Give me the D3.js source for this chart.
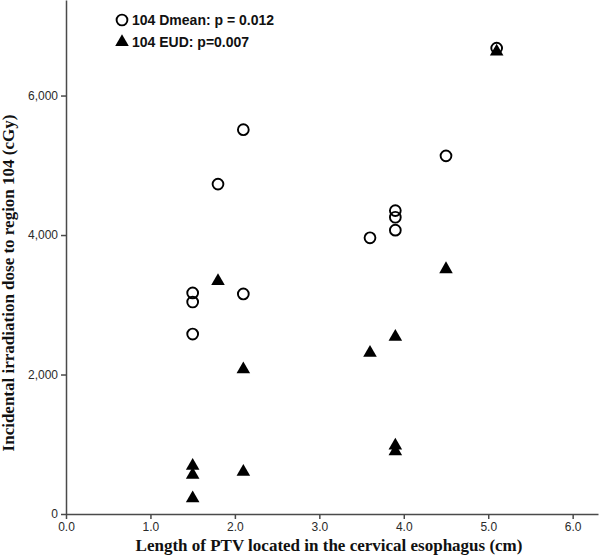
<!DOCTYPE html>
<html>
<head>
<meta charset="utf-8">
<script src="https://cdn.jsdelivr.net/npm/d3@7"></script>
<style>
  body { margin: 0; background: #fff; }
  .axis path, .axis line { stroke: #4a4a4a; stroke-width: 1.5; }
  .axis text { font-family: "Liberation Sans", Arial, sans-serif; font-size: 12px; fill: #2a2a2a; }
  .axis-title { font-family: "Liberation Serif", "Times New Roman", serif; font-weight: bold; font-size: 17px; fill: #111; }
  .legend text { font-family: "Liberation Sans", Arial, sans-serif; font-weight: bold; font-size: 14px; fill: #111; }
</style>
</head>
<body>
<svg id="ScatterVis" width="600" height="557"></svg>
<script>
const width = 600;
const height = 557;

/* DATA */
const dmeanLength = [1.5, 1.5, 1.5, 1.8, 2.1, 2.1, 3.6, 3.9, 3.9, 3.9, 4.5, 5.1];
const dmeanDose   = [3170, 3040, 2580, 4730, 5510, 3155, 3960, 4350, 4255, 4070, 5135, 6680];

const eudLength = [1.5, 1.5, 1.5, 1.8, 2.1, 2.1, 3.6, 3.9, 3.9, 3.9, 4.5, 5.1];
const eudDose   = [690, 560, 225, 3340, 2075, 605, 2310, 2540, 980, 900, 3510, 6630];

const xTicks = [0, 1, 2, 3, 4, 5, 6];
const yTicks = [0, 2000, 4000, 6000];

const legendLabels = ["104 Dmean: p = 0.012", "104 EUD: p=0.007"];

/* PLOT */
const svg = d3.select("svg#ScatterVis");

const scales = {
  x: d3.scaleLinear().domain([0, 6.3]).range([66, 598]),
  y: d3.scaleLinear().domain([0, 7370]).range([514, 0])
};

/* AXES */
const xAxis = d3.axisBottom(scales.x)
  .tickValues(xTicks)
  .tickFormat(d3.format(".1f"))
  .tickSize(5)
  .tickSizeOuter(0);

const yAxis = d3.axisLeft(scales.y)
  .tickValues(yTicks)
  .tickFormat(d3.format(","))
  .tickSize(5)
  .tickSizeOuter(0);

svg.append("g")
  .attr("class", "axis")
  .attr("transform", translate(0, scales.y(0)))
  .call(xAxis);

svg.append("g")
  .attr("class", "axis")
  .attr("transform", translate(scales.x(0), 0))
  .call(yAxis);

/* AXIS TITLES */
svg.append("text")
  .attr("class", "axis-title")
  .attr("x", 329)
  .attr("y", 551)
  .attr("text-anchor", "middle")
  .text("Length of PTV located in the cervical esophagus (cm)");

svg.append("g")
  .attr("transform", translate(14, 283) + " rotate(-90)")
  .append("text")
  .attr("class", "axis-title")
  .attr("text-anchor", "middle")
  .text("Incidental irradiation dose to region 104 (cGy)");

/* POINTS */
const triangle = d3.symbol().type(d3.symbolTriangle).size(80);

const dmeanData = dmeanLength.map((d, i) => ({x: d, y: dmeanDose[i]}));
const eudData = eudLength.map((d, i) => ({x: d, y: eudDose[i]}));

svg.append("g").selectAll("path")
  .data(eudData)
  .enter()
  .append("path")
  .attr("d", triangle)
  .attr("transform", d => translate(scales.x(d.x), scales.y(d.y)))
  .attr("fill", "#000");

svg.append("g").selectAll("circle")
  .data(dmeanData)
  .enter()
  .append("circle")
  .attr("cx", d => scales.x(d.x))
  .attr("cy", d => scales.y(d.y))
  .attr("r", 5.4)
  .attr("fill", "none")
  .attr("stroke", "#000")
  .attr("stroke-width", 1.9);

/* LEGEND */
const legend = svg.append("g").attr("class", "legend");

legend.append("circle")
  .attr("cx", 122).attr("cy", 20).attr("r", 5.4)
  .attr("fill", "none").attr("stroke", "#000").attr("stroke-width", 1.9);

legend.append("path")
  .attr("d", triangle)
  .attr("transform", translate(122, 42))
  .attr("fill", "#000");

legend.selectAll("text")
  .data(legendLabels)
  .enter()
  .append("text")
  .attr("x", 132)
  .attr("y", (d, i) => 25 + i * 22)
  .text(d => d);

function translate(x, y) {
  return 'translate(' + String(x) + ',' + String(y) + ')';
}
</script>
</body>
</html>
